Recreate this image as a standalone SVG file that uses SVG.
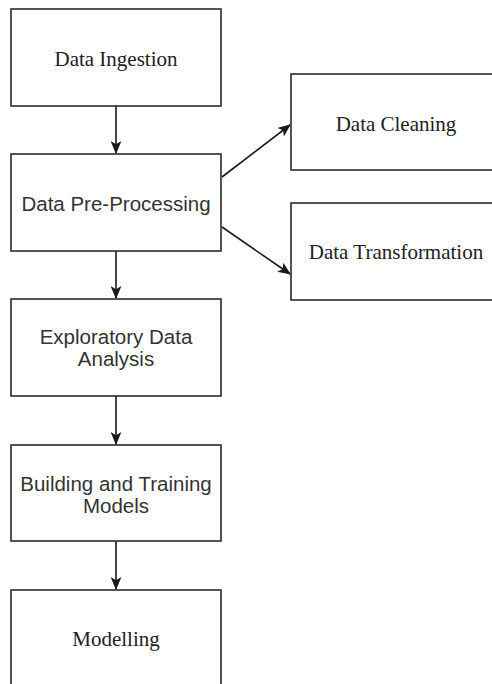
<svg xmlns="http://www.w3.org/2000/svg" width="492" height="684" viewBox="0 0 492 684">
  <style>
    .box { fill: #ffffff; stroke: #2b2b2b; stroke-width: 1.6; }
    .edge { fill: none; stroke: #1a1a1a; stroke-width: 1.6; }
    .serif { font-family: "Liberation Serif", "Times New Roman", serif; font-size: 21px; fill: #222; text-anchor: middle; }
    .sans { font-family: "Liberation Sans", Arial, sans-serif; font-size: 20.5px; fill: #333; text-anchor: middle; }
  </style>
  <defs>
    <marker id="arrow" viewBox="0 0 12 10" refX="11" refY="5" markerWidth="13" markerHeight="11" markerUnits="userSpaceOnUse" orient="auto">
      <path d="M0,0 L12,5 L0,10 L3,5 Z" fill="#1a1a1a"/>
    </marker>
  </defs>
  <rect width="492" height="684" fill="#ffffff"/>

  <g id="connectors">
    <line class="edge" x1="116" y1="106" x2="116" y2="153" marker-end="url(#arrow)"/>
    <line class="edge" x1="222" y1="177" x2="290" y2="125" marker-end="url(#arrow)"/>
    <line class="edge" x1="222" y1="227" x2="290" y2="274" marker-end="url(#arrow)"/>
    <line class="edge" x1="116" y1="251" x2="116" y2="298" marker-end="url(#arrow)"/>
    <line class="edge" x1="116" y1="396" x2="116" y2="444" marker-end="url(#arrow)"/>
    <line class="edge" x1="116" y1="541" x2="116" y2="589" marker-end="url(#arrow)"/>
  </g>

  <g id="data-ingestion">
    <rect class="box" x="11" y="9" width="210" height="97"/>
    <text class="serif" x="116" y="66">Data Ingestion</text>
  </g>

  <g id="data-pre-processing">
    <rect class="box" x="11" y="154" width="210" height="97"/>
    <text class="sans" x="116" y="211">Data Pre-Processing</text>
  </g>

  <g id="data-cleaning">
    <rect class="box" x="291" y="74" width="210" height="96"/>
    <text class="serif" x="396" y="131">Data Cleaning</text>
  </g>

  <g id="data-transformation">
    <rect class="box" x="291" y="203" width="210" height="97"/>
    <text class="serif" x="396" y="259">Data Transformation</text>
  </g>

  <g id="exploratory-data-analysis">
    <rect class="box" x="11" y="299" width="210" height="97"/>
    <text class="sans" x="116" y="344">Exploratory Data</text>
    <text class="sans" x="116" y="366">Analysis</text>
  </g>

  <g id="building-training-models">
    <rect class="box" x="11" y="445" width="210" height="96"/>
    <text class="sans" x="116" y="491">Building and Training</text>
    <text class="sans" x="116" y="513">Models</text>
  </g>

  <g id="modelling">
    <rect class="box" x="11" y="590" width="210" height="97"/>
    <text class="serif" x="116" y="646">Modelling</text>
  </g>
</svg>
